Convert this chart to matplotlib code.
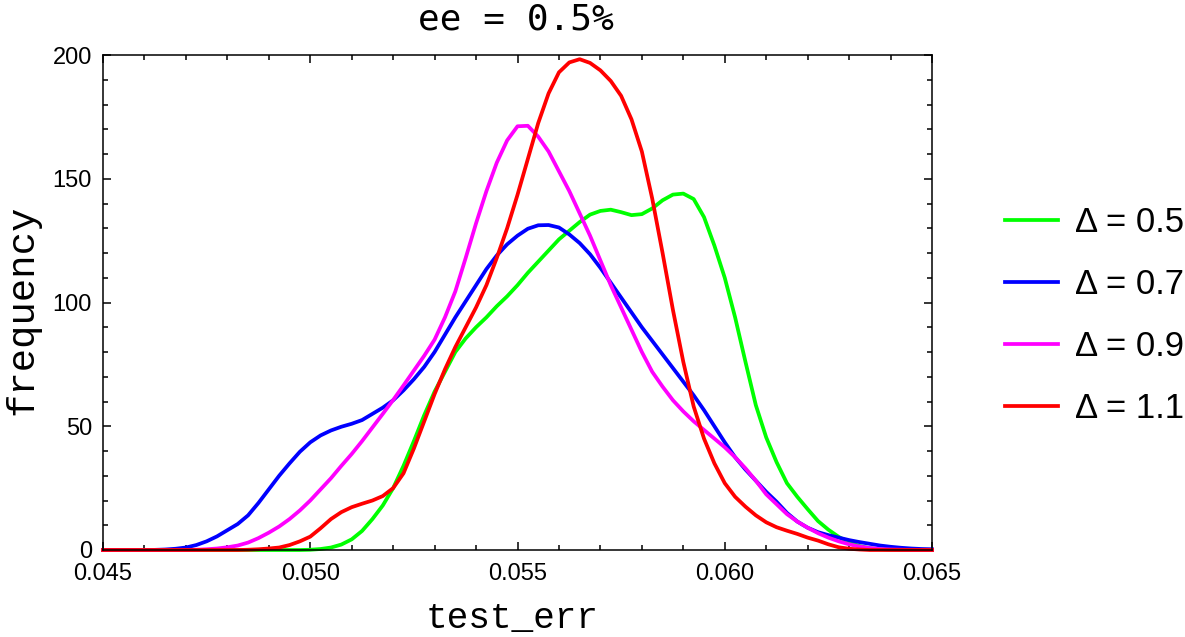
import matplotlib
matplotlib.use("Agg")
import matplotlib.pyplot as plt
import numpy as np
from matplotlib.ticker import MultipleLocator, FormatStrFormatter

# test_err grid, 0.045 .. 0.065 in steps of 0.00025 (81 points)
test_err = np.linspace(0.045, 0.065, 81)

freq_d05 = [0, 0, 0, 0, 0, 0, 0, 0, 0, 0,
            0, 0, 0, 0, 0, 0, 0, 0, 0, 0,
            0.1, 0.4, 1.0, 2.2, 4.3, 7.7, 12.5, 18, 25, 34,
            44, 54.5, 64, 72, 80, 85.5, 90, 94, 98.5, 102.5,
            107, 112, 116.5, 121, 125.5, 129, 132.5, 135.5, 137, 137.5,
            136.5, 135.3, 135.7, 138, 141.3, 143.6, 144, 141.8, 134.5, 123,
            110, 94, 76, 58.5, 45.5, 35.5, 27, 21.5, 16.5, 11.7,
            8.2, 5.3, 3, 1.6, 0.7, 0.3, 0.1, 0, 0, 0,
            0]

freq_d07 = [0, 0, 0, 0, 0, 0.05, 0.2, 0.5, 1.0, 2.0,
            3.5, 5.5, 8.0, 10.5, 14, 19, 24.5, 30, 35, 39.7,
            43.5, 46.3, 48.3, 49.8, 51, 52.5, 55, 57.5, 60.5, 64.5,
            69, 74, 80, 87, 94, 100.5, 107, 113.5, 119, 123.5,
            127, 129.8, 131.2, 131.3, 130.3, 127.5, 124, 119.5, 114, 108,
            102, 96, 90, 84.5, 79, 73.5, 68, 62.5, 56.5, 50,
            43.5, 37.5, 32.5, 28, 23.5, 19.5, 15, 11.5, 9, 7.2,
            6, 5, 4, 3.2, 2.5, 1.8, 1.3, 0.9, 0.6, 0.4,
            0.3]

freq_d09 = [0, 0, 0, 0, 0, 0, 0, 0, 0, 0.1,
            0.3, 0.6, 1.1, 1.8, 3.0, 4.8, 7.0, 9.5, 12.5, 16,
            20, 24.5, 29, 34, 38.8, 44, 49.5, 55, 60.6, 66.5,
            72.5, 78.5, 85, 94, 104.5, 118, 132, 145, 156.5, 165.5,
            171.2, 171.4, 167, 161, 153, 145, 136, 127, 117, 107,
            98, 89, 80, 72, 66, 60.5, 56, 52, 48.5, 45,
            41.5, 37.5, 33, 28, 22.5, 18.5, 14.5, 11.5, 9, 6.8,
            5, 3.5, 2.3, 1.4, 0.8, 0.4, 0.2, 0.1, 0, 0,
            0]

freq_d11 = [0, 0, 0, 0, 0, 0, 0, 0, 0, 0,
            0, 0, 0, 0, 0.1, 0.3, 0.6, 1.0, 2.0, 3.5,
            5.4, 8.8, 12.5, 15.3, 17.3, 18.7, 20, 21.8, 25, 31,
            41, 52, 63, 73, 82, 90, 98, 107, 118, 130,
            143.5, 158, 172.5, 184.5, 193, 197, 198.3, 196.8, 193.8, 189.5,
            183.5, 174, 161, 142, 120, 97, 76, 58, 45, 35,
            27, 21.5, 17.5, 14, 11.2, 9.2, 7.8, 6.5, 5.0, 3.8,
            2.3, 1.1, 0.5, 0.2, 0, 0, 0, 0, 0, 0,
            0]

series = [freq_d05, freq_d07, freq_d09, freq_d11]
labels = ["Δ = 0.5", "Δ = 0.7", "Δ = 0.9", "Δ = 1.1"]
colors = ["#00ff00", "#0000ff", "#ff00ff", "#ff0000"]

W, H = 1185, 637
fig = plt.figure(figsize=(W / 100, H / 100), dpi=100)
ax = fig.add_axes([103 / W, 1 - 550 / H, (932 - 103) / W, (550 - 55) / H])

for vals, lab, col in zip(series, labels, colors):
    ax.plot(test_err, vals, color=col, lw=2.7, label=lab, clip_on=False,
            solid_joinstyle="round")

ax.set_xlim(0.045, 0.065)
ax.set_ylim(0, 200)
ax.xaxis.set_major_locator(MultipleLocator(0.005))
ax.xaxis.set_minor_locator(MultipleLocator(0.001))
ax.yaxis.set_major_locator(MultipleLocator(50))
ax.yaxis.set_minor_locator(MultipleLocator(10))
ax.xaxis.set_major_formatter(FormatStrFormatter("%.3f"))
ax.yaxis.set_major_formatter(FormatStrFormatter("%d"))

ax.tick_params(which="both", direction="in", top=True, right=True, width=1.1)
ax.tick_params(which="major", length=6, labelsize=17)
ax.tick_params(axis="x", which="major", pad=9)
ax.tick_params(axis="y", which="major", pad=8)
ax.tick_params(which="minor", length=3.8)
for lbl in ax.get_xticklabels() + ax.get_yticklabels():
    lbl.set_family("Liberation Sans")
for sp in ax.spines.values():
    sp.set_linewidth(1.1)

# titles and axis labels
fig.text(516 / W, 1 - 29 / H, "ee = 0.5%", family="DejaVu Sans Mono",
         fontsize=26, ha="center", va="baseline")
fig.text(512 / W, 1 - 628 / H, "test_err", family="Liberation Mono",
         fontsize=26, ha="center", va="baseline")
fig.text(22 / W, 1 - 310 / H, "frequency", family="Liberation Mono",
         fontsize=28, ha="center", va="center", rotation=90)

leg = ax.legend(loc="center left", bbox_to_anchor=(1005 / W, 1 - 315.5 / H),
                bbox_transform=fig.transFigure, frameon=False, borderpad=0,
                borderaxespad=0, handlelength=1.53, handletextpad=0.49,
                labelspacing=0.83, prop={"family": "Liberation Sans", "size": 25})

fig.savefig("out.png", dpi=100)
